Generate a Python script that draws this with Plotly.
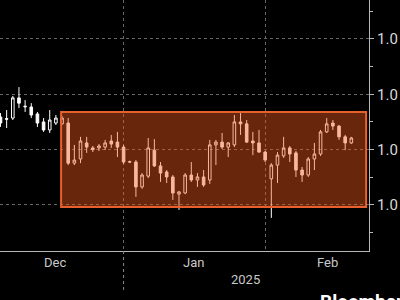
import plotly.graph_objects as go

# ---- data (EUR/USD-like daily candles) ----
opens = [1.0518, 1.0512, 1.0514, 1.0587, 1.0557, 1.0554, 1.0529, 1.0500, 1.0471, 1.0496,
         1.0493, 1.0496, 1.0351, 1.0366, 1.0424, 1.0406, 1.0406, 1.0409, 1.0431, 1.0427,
         1.0409, 1.0356, 1.0355, 1.0265, 1.0304, 1.0398, 1.0341, 1.0319, 1.0301, 1.0239,
         1.0243, 1.0308, 1.0290, 1.0301, 1.0290, 1.0417, 1.0427, 1.0409, 1.0417, 1.0500,
         1.0493, 1.0431, 1.0424, 1.0391, 1.0294, 1.0344, 1.0377, 1.0406, 1.0388, 1.0326,
         1.0308, 1.0366, 1.0384, 1.0464, 1.0496, 1.0485, 1.0446, 1.0424]
highs = [1.0532, 1.0543, 1.0594, 1.0626, 1.0579, 1.0568, 1.0536, 1.0514, 1.0543, 1.0525,
         1.0521, 1.0514, 1.0417, 1.0446, 1.0446, 1.0413, 1.0420, 1.0435, 1.0453, 1.0464,
         1.0417, 1.0360, 1.0362, 1.0315, 1.0442, 1.0438, 1.0355, 1.0326, 1.0308, 1.0250,
         1.0315, 1.0355, 1.0315, 1.0326, 1.0435, 1.0435, 1.0460, 1.0427, 1.0525, 1.0532,
         1.0507, 1.0464, 1.0471, 1.0395, 1.0351, 1.0391, 1.0446, 1.0413, 1.0395, 1.0337,
         1.0373, 1.0424, 1.0471, 1.0514, 1.0507, 1.0489, 1.0453, 1.0446]
lows = [1.0482, 1.0478, 1.0507, 1.0550, 1.0536, 1.0514, 1.0482, 1.0464, 1.0460, 1.0489,
        1.0489, 1.0344, 1.0344, 1.0351, 1.0388, 1.0391, 1.0395, 1.0398, 1.0406, 1.0373,
        1.0348, 1.0352, 1.0229, 1.0258, 1.0297, 1.0337, 1.0283, 1.0279, 1.0218, 1.0182,
        1.0239, 1.0283, 1.0265, 1.0265, 1.0276, 1.0344, 1.0402, 1.0373, 1.0409, 1.0453,
        1.0424, 1.0380, 1.0388, 1.0355, 1.0153, 1.0279, 1.0370, 1.0355, 1.0301, 1.0283,
        1.0301, 1.0326, 1.0377, 1.0460, 1.0471, 1.0435, 1.0398, 1.0420]
closes = [1.0496, 1.0510, 1.0587, 1.0568, 1.0555, 1.0525, 1.0496, 1.0471, 1.0507, 1.0514,
          1.0514, 1.0351, 1.0362, 1.0431, 1.0409, 1.0400, 1.0413, 1.0424, 1.0420, 1.0409,
          1.0355, 1.0355, 1.0265, 1.0308, 1.0406, 1.0341, 1.0315, 1.0301, 1.0243, 1.0247,
          1.0308, 1.0290, 1.0301, 1.0272, 1.0417, 1.0427, 1.0409, 1.0424, 1.0500, 1.0493,
          1.0427, 1.0424, 1.0391, 1.0362, 1.0344, 1.0380, 1.0406, 1.0384, 1.0326, 1.0308,
          1.0366, 1.0384, 1.0464, 1.0493, 1.0485, 1.0446, 1.0424, 1.0442]
bar_index = list(range(len(opens)))

month_labels = ["Dec", "Jan", "Feb"]
month_label_pos = [8.86, 31.28, 53.05]
month_start_idx = [20, 43]
year_label = "2025"
year_label_pos = 39.73

y_tick_vals = [1.02, 1.04, 1.06, 1.08]
y_tick_text = ["1.0", "1.0", "1.0", "1.0"]

box_x = [9.85, 59.4]
box_y = [1.0192, 1.0536]

x_range = [-0.08, 59.87]
y_range = [1.00332, 1.0941]

label_color = "#c9c9c9"
axis_color = "#b8b8b8"
grid_color = "#666666"

fig = go.Figure()
fig.add_trace(go.Candlestick(
    x=bar_index, open=opens, high=highs, low=lows, close=closes,
    increasing=dict(line=dict(color="#ffffff", width=1), fillcolor="rgba(0,0,0,0)"),
    decreasing=dict(line=dict(color="#ffffff", width=1), fillcolor="#ffffff"),
    whiskerwidth=0, showlegend=False, hoverinfo="skip",
))

# highlight box (drawn above candles)
fig.add_shape(type="rect", xref="x", yref="y",
              x0=box_x[0], x1=box_x[1], y0=box_y[0], y1=box_y[1],
              fillcolor="rgba(242,88,30,0.43)",
              line=dict(color="#e8612c", width=2), layer="above")

# year separator extending below the axis
fig.add_shape(type="line", xref="x", yref="paper",
              x0=month_start_idx[0], x1=month_start_idx[0], y0=0, y1=-0.155,
              line=dict(color="#8a8a8a", width=1, dash="dot"))

for lab, pos in zip(month_labels, month_label_pos):
    fig.add_annotation(x=pos, y=-0.044, xref="x", yref="paper", text=lab,
                       showarrow=False, yanchor="middle", xanchor="center",
                       font=dict(family="Roboto", size=13, color=label_color))
fig.add_annotation(x=year_label_pos, y=-0.1155, xref="x", yref="paper", text=year_label,
                   showarrow=False, yanchor="middle", xanchor="center",
                   font=dict(family="Roboto", size=13, color=label_color))
fig.add_annotation(x=0.862, y=-0.146, xref="paper", yref="paper", text="<b>Bloomberg</b>",
                   showarrow=False, yanchor="top", xanchor="left",
                   font=dict(family="Roboto", size=19, color="#ffffff"))

fig.update_layout(
    width=400, height=300,
    margin=dict(l=0, r=31, t=0, b=49),
    paper_bgcolor="#000000", plot_bgcolor="#000000",
    boxgap=0.4,
    showlegend=False,
    xaxis=dict(range=x_range, rangeslider=dict(visible=False),
               tickvals=month_start_idx, ticktext=["", ""],
               showgrid=True, gridcolor=grid_color, griddash="dot", gridwidth=1,
               showline=True, linecolor=axis_color, linewidth=1,
               ticks="", zeroline=False, fixedrange=True),
    yaxis=dict(range=y_range, side="right", tickvals=y_tick_vals, ticktext=y_tick_text,
               showgrid=True, gridcolor=grid_color, griddash="dot", gridwidth=1,
               showline=True, linecolor=axis_color, linewidth=1,
               ticks="outside", ticklen=4, tickcolor=axis_color,
               minor=dict(dtick=0.01, tick0=1.0, ticks="outside", ticklen=3,
                          tickcolor=axis_color, showgrid=False),
               tickfont=dict(family="Roboto", size=15, color="#d8d8d8"),
               zeroline=False, fixedrange=True),
)

fig.write_html("out.html")
